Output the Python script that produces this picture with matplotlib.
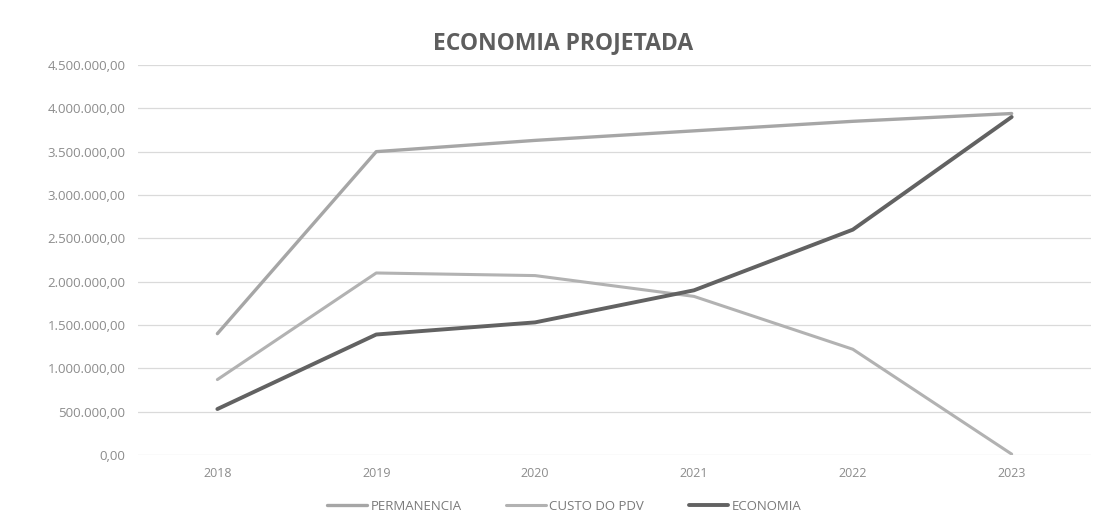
import matplotlib
matplotlib.use("Agg")
import matplotlib.pyplot as plt
from matplotlib.ticker import FuncFormatter

years = ["2018", "2019", "2020", "2021", "2022", "2023"]
permanencia = [1400000, 3500000, 3630000, 3740000, 3850000, 3940000]
custo_pdv = [870000, 2100000, 2070000, 1830000, 1220000, 10000]
economia = [530000, 1390000, 1530000, 1900000, 2600000, 3900000]

plt.rcParams['font.family'] = ['Open Sans', 'DejaVu Sans']

fig = plt.figure(figsize=(11.01, 5.22), dpi=100)
ax = fig.add_axes([0.1253, 0.1284, 0.8657, 0.7471])

x = list(range(len(years)))
ax.plot(x, permanencia, color="#a6a6a6", lw=2.4, label="PERMANENCIA", solid_capstyle="round")
ax.plot(x, custo_pdv, color="#b2b2b2", lw=2.2, label="CUSTO DO PDV", solid_capstyle="round")
ax.plot(x, economia, color="#626262", lw=2.8, label="ECONOMIA", solid_capstyle="round")

ax.set_xlim(-0.5, len(years) - 0.5)
ax.set_ylim(0, 4500000)
ax.set_yticks(range(0, 4500001, 500000))
def fmt(v, pos):
    s = f"{v:,.2f}"
    return s.replace(",", "X").replace(".", ",").replace("X", ".")
ax.yaxis.set_major_formatter(FuncFormatter(fmt))
ax.set_xticks(x)
ax.set_xticklabels(years)
ax.grid(axis="y", color="#dadada", lw=0.9)
ax.set_axisbelow(True)
for s in ax.spines.values():
    s.set_visible(False)
ax.tick_params(axis="both", length=0, colors="#8c8c8c")
ax.tick_params(axis="y", pad=9, labelsize=9.5)
ax.tick_params(axis="x", pad=9, labelsize=9)

fig.text(0.511, 0.918, "ECONOMIA PROJETADA", ha="center", va="center",
         fontsize=16.5, fontweight="bold", color="#5e5e5e")

leg = ax.legend(loc="upper center", bbox_to_anchor=(0.4475, -0.085), ncol=3,
                frameon=False, fontsize=9.5, handlelength=3.0, handletextpad=0.25,
                columnspacing=3.4, labelcolor="#7a7a7a")

fig.savefig("out.png", dpi=100, facecolor="white")
